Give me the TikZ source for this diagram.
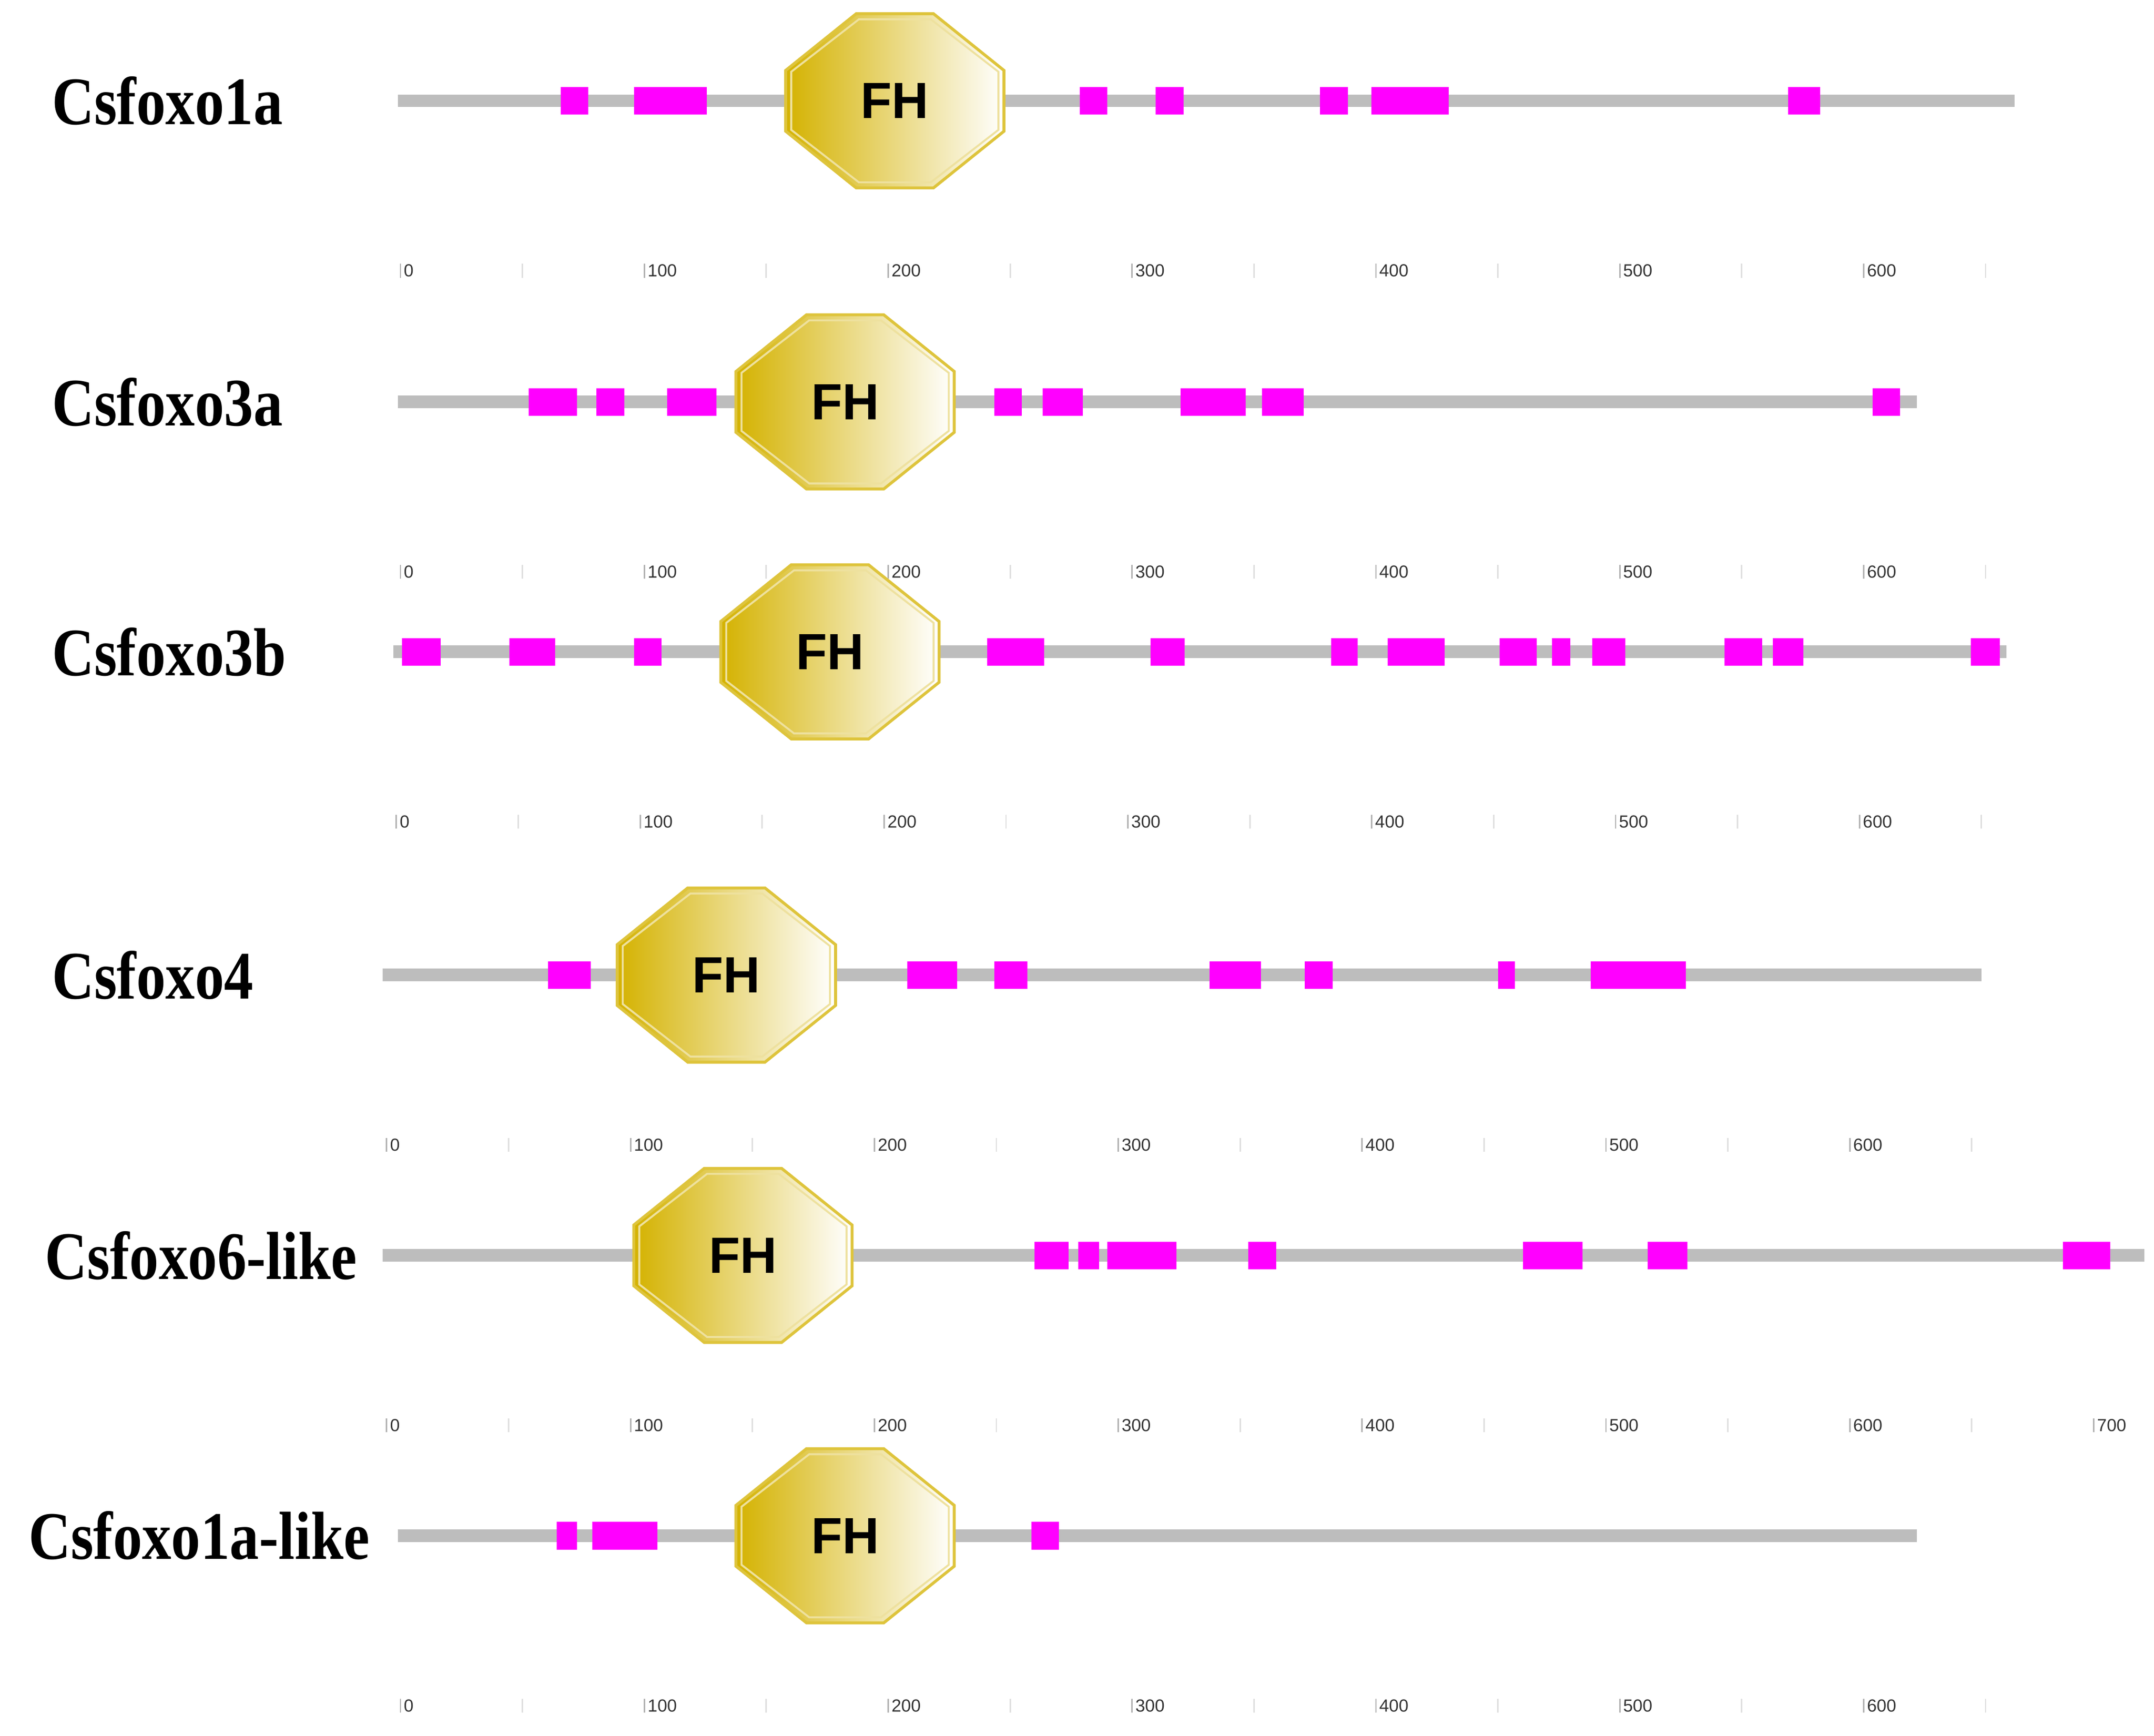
\documentclass[tikz,border=0pt]{standalone}
\usepackage{fontspec}
\usepackage{graphicx}
\setmainfont{Liberation Serif}
\newfontfamily\sansf{Liberation Sans}
\definecolor{gold}{RGB}{212,178,0}
\definecolor{goldb}{RGB}{222,196,60}
\definecolor{pinkm}{RGB}{255,0,255}
\definecolor{lgray}{RGB}{189,189,189}
\tikzset{
  lab/.style={anchor=west,font=\bfseries\fontsize{14}{14}\selectfont,inner sep=0},
  fh/.style={font=\sansf\bfseries\fontsize{10.5}{11}\selectfont},
  bb/.style={line width=2.6pt,draw=lgray},
  pk/.style={fill=pinkm,draw=none},
  tk/.style={draw=gray!60,line width=0.3pt},
  tl/.style={font=\sansf\fontsize{3.6}{4}\selectfont,anchor=west,inner sep=0.5pt,text=black!80}
}
\newcommand\protrow[9]{%
 \begin{scope}[yshift=-#1*0.01cm]
  \node[lab] (L#1) at (#9*0.01,0) {\scalebox{0.86}[1]{#8}};
  \coordinate (A#1) at (#2*0.01,0);
  \coordinate (B#1) at (#3*0.01,0);
  \draw[bb] (A#1) -- (B#1);
  \foreach \a/\b in {#5} {\fill[pk] (\a*0.01,-0.1) rectangle (\b*0.01,0.1);}
  \begin{scope}[shift={(#4*0.01,0)}]
   \shade[left color=gold,right color=white,draw=goldb,line width=0.6pt]
     (-0.79,-0.22) -- (-0.79,0.22) -- (-0.28,0.63) -- (0.28,0.63) -- (0.79,0.22) -- (0.79,-0.22) -- (0.28,-0.63) -- (-0.28,-0.63) -- cycle;
   \draw[white!50!goldb,line width=0.4pt]
     (-0.75,-0.21) -- (-0.75,0.21) -- (-0.26,0.59) -- (0.26,0.59) -- (0.75,0.21) -- (0.75,-0.21) -- (0.26,-0.59) -- (-0.26,-0.59) -- cycle;
   \node[fh] (F#1) at (0,0) {FH};
  \end{scope}
  \begin{scope}[yshift=-1.23cm]
   \foreach \k in {0,...,#7} {
     \draw[tk] (#6*0.01+\k*1.765,0.05) -- ++(0,-0.1);
     \node[tl] (T#1-\k) at (#6*0.01+\k*1.765,0) {\pgfmathparse{int(\k*100)}\pgfmathresult};
     \draw[tk,gray!25] (#6*0.01+\k*1.765+0.8825,0.05) -- ++(0,-0.1);
   }
  \end{scope}
 \end{scope}}
\begin{document}
\begin{tikzpicture}
\useasboundingbox (0,0) rectangle (15.59,-12.56);
\protrow{73}{288}{1459}{648}{406/426,459/512,782/802,837/857,956/976,993/1049,1295/1318}{290}{6}{Csfoxo1a}{37}
\protrow{291}{288}{1388}{612}{383/418,432/452,483/519,720/740,755/784,855/902,914/944,1356/1376}{290}{6}{Csfoxo3a}{37}
\protrow{472}{285}{1453}{601}{291/319,369/402,459/479,715/756,833/858,964/983,1005/1046,1086/1113,1124/1137,1153/1177,1249/1276,1284/1306,1427/1448}{287}{6}{Csfoxo3b}{37}
\protrow{706}{277}{1435}{526}{397/428,657/693,720/744,876/913,945/965,1085/1097,1152/1221}{280}{6}{Csfoxo4}{37}
\protrow{909}{277}{1553}{538}{749/774,781/796,802/852,904/924,1103/1146,1193/1222,1494/1528}{280}{7}{Csfoxo6-like}{32}
\protrow{1112}{288}{1388}{612}{403/418,429/476,747/767}{290}{6}{Csfoxo1a-like}{20}
\end{tikzpicture}
\end{document}
